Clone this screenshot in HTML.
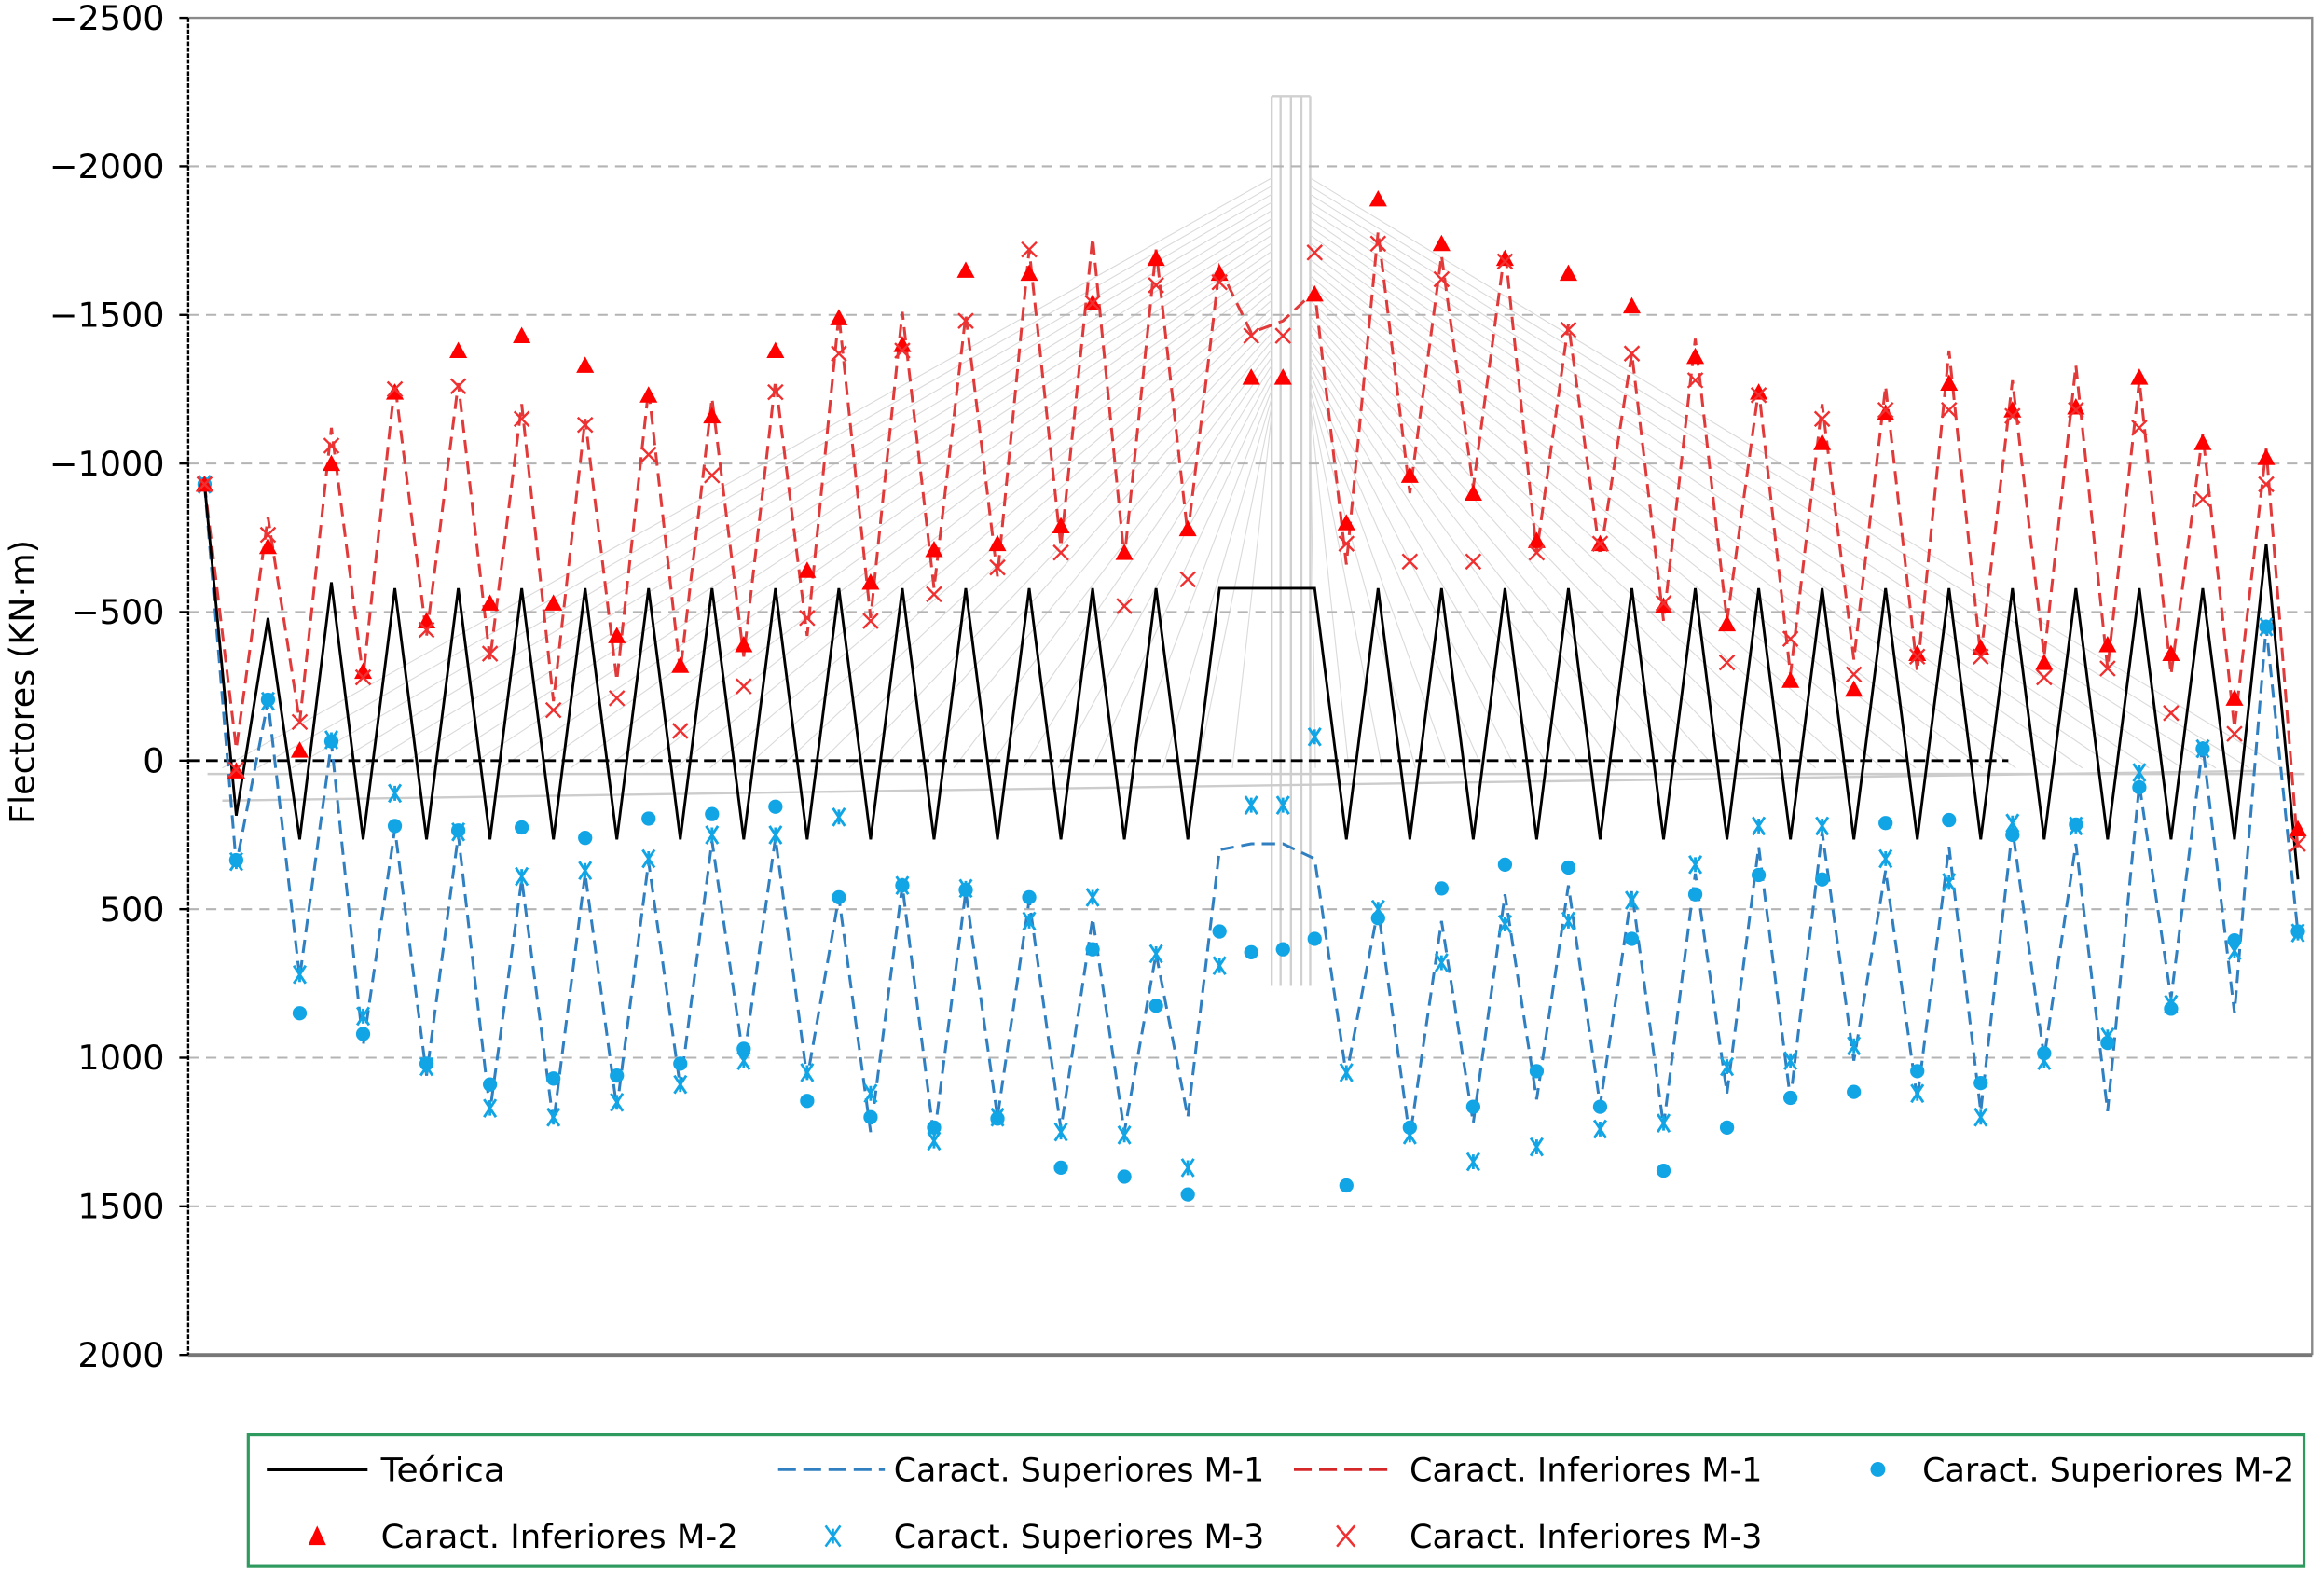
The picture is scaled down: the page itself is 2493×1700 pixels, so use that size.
<!DOCTYPE html>
<html><head><meta charset="utf-8"><style>
html,body{margin:0;padding:0;background:#fff}
svg{display:block}
text{font-family:"DejaVu Sans","Liberation Sans",sans-serif;fill:#000}
</style></head><body>
<svg id="chart" xmlns="http://www.w3.org/2000/svg" width="2493" height="1700" viewBox="0 0 1568 1069" preserveAspectRatio="none">
<g id="bg"></g>
<g id="grid"></g>
<g id="series"></g>
<g id="axes"></g>
<text transform="translate(23,460) rotate(-90)" text-anchor="middle" font-size="23">Flectores (KN·m)</text>
<g>
<rect x="167.5" y="967.5" width="1387" height="89" fill="#fff" stroke="#2e9a5e" stroke-width="2"/>
<g><line x1="180" y1="991" x2="248" y2="991" stroke="#000" stroke-width="2.5"/><text x="257" y="999" font-size="22" textLength="84" lengthAdjust="spacingAndGlyphs">Teórica</text></g>
<g><line x1="525" y1="991" x2="597" y2="991" stroke="#2f7fc1" stroke-width="2.2" stroke-dasharray="12,5"/><text x="603" y="999" font-size="22" textLength="250" lengthAdjust="spacingAndGlyphs">Caract. Superiores M-1</text></g>
<g><line x1="873" y1="991" x2="937" y2="991" stroke="#d62728" stroke-width="2.2" stroke-dasharray="12,5"/><text x="951" y="999" font-size="22" textLength="238" lengthAdjust="spacingAndGlyphs">Caract. Inferiores M-1</text></g>
<g><circle cx="1267" cy="991" r="5" fill="#12a5e6"/><text x="1297" y="999" font-size="22" textLength="251" lengthAdjust="spacingAndGlyphs">Caract. Superiores M-2</text></g>
<g><polygon points="214,1029 220,1042 208,1042" fill="#f00"/><text x="257" y="1044" font-size="22" textLength="241" lengthAdjust="spacingAndGlyphs">Caract. Inferiores M-2</text></g>
<g><path d="M557,1029 L567,1043 M567,1029 L557,1043 M562,1031 V1041" stroke="#12a5e6" stroke-width="1.6"/><text x="603" y="1044" font-size="22" textLength="250" lengthAdjust="spacingAndGlyphs">Caract. Superiores M-3</text></g>
<g><path d="M902,1029 L914,1043 M914,1029 L902,1043" stroke="#f03030" stroke-width="1.6"/><text x="951" y="1044" font-size="22" textLength="238" lengthAdjust="spacingAndGlyphs">Caract. Inferiores M-3</text></g>
</g>
</svg>
<script>
const yTicks=[-2500,-2000,-1500,-1000,-500,0,500,1000,1500,2000];
const teorica=[-930,185,-480,265,-600,265,-580,265,-580,265,-580,265,-580,265,-580,265,-580,265,-580,265,-580,265,-580,265,-580,265,-580,265,-580,265,-580,265,-580,-580,-580,-580,265,-580,265,-580,265,-580,265,-580,265,-580,265,-580,265,-580,265,-580,265,-580,265,-580,265,-580,265,-580,265,-580,265,-580,265,-730,400];
const supM1=[-930,350,-200,730,-60,960,230,1060,250,1180,400,1220,380,1170,340,1100,270,1010,260,1070,460,1250,420,1270,440,1200,470,1240,530,1250,650,1200,300,280,280,330,1060,500,1270,540,1220,450,1140,420,1160,440,1230,380,1120,290,1140,240,1010,370,1140,290,1180,230,1000,280,1180,80,800,-50,850,-450,580];
const infM1=[-930,-40,-820,-130,-1120,-280,-1270,-420,-1270,-340,-1200,-200,-1150,-270,-1250,-300,-1220,-350,-1280,-420,-1500,-480,-1510,-580,-1500,-620,-1720,-720,-1760,-680,-1720,-760,-1660,-1440,-1480,-1580,-660,-1780,-900,-1700,-920,-1720,-700,-1470,-690,-1370,-470,-1420,-470,-1250,-290,-1200,-340,-1260,-300,-1380,-350,-1280,-350,-1330,-310,-1280,-290,-1100,-110,-1050,300];
const supM2=[-930,335,-205,850,-65,920,220,1020,235,1090,225,1070,260,1060,195,1020,180,970,155,1145,460,1200,420,1235,435,1205,460,1370,635,1400,825,1460,575,645,635,600,1430,530,1235,430,1165,350,1045,360,1165,600,1380,450,1235,385,1135,400,1115,210,1045,200,1085,250,985,215,950,90,835,-40,605,-450,575];
const infM2=[-930,35,-720,-35,-1000,-300,-1240,-470,-1380,-530,-1430,-530,-1330,-420,-1230,-320,-1160,-390,-1380,-640,-1490,-600,-1400,-710,-1650,-730,-1640,-790,-1540,-700,-1690,-780,-1640,-1290,-1290,-1570,-800,-1890,-960,-1740,-900,-1690,-740,-1640,-730,-1530,-520,-1360,-460,-1240,-270,-1070,-240,-1170,-360,-1270,-380,-1180,-330,-1190,-390,-1290,-360,-1070,-210,-1020,230];
const supM3=[-930,340,-200,720,-70,860,110,1030,240,1170,390,1200,370,1150,330,1090,250,1010,250,1050,190,1120,420,1280,430,1200,540,1250,460,1260,650,1370,690,150,150,-80,1050,500,1260,680,1350,550,1300,540,1240,470,1220,350,1030,220,1010,220,960,330,1120,410,1200,210,1010,220,930,40,820,-40,640,-450,580];
const infM3=[-930,30,-760,-130,-1060,-280,-1250,-440,-1260,-360,-1150,-170,-1130,-210,-1030,-100,-960,-250,-1240,-480,-1370,-470,-1380,-560,-1480,-650,-1720,-700,-1540,-520,-1600,-610,-1610,-1430,-1430,-1710,-730,-1740,-670,-1620,-670,-1680,-700,-1450,-730,-1370,-530,-1280,-330,-1230,-410,-1150,-290,-1180,-350,-1180,-350,-1160,-280,-1180,-310,-1120,-160,-880,-90,-930,280];

const NS='http://www.w3.org/2000/svg';
const X0=138,DX=21.4,Y0=513,KY=100.2/500;
function xs(i){return X0+i*DX;}
function ys(v){return Y0+v*KY;}
function mk(tag,attrs,parent){const e=document.createElementNS(NS,tag);for(const k in attrs)e.setAttribute(k,attrs[k]);parent.appendChild(e);return e;}

const bg=document.getElementById('bg');
const pylonX=[858,864,871,878,884];
pylonX.forEach(px=>{
  const l=mk('line',{x1:px,y1:65,x2:px,y2:665,stroke:'#d0d0d0','stroke-width':1.5},bg);
  
  
});
const pl=mk('line',{x1:858,y1:65,x2:884,y2:65,stroke:'#d0d0d0','stroke-width':1.5},bg);


for(let k=0;k<30;k++){
  const ax=150+k*23.5, ay=518;
  const c1=mk('line',{x1:858,y1:120+k*5.5,x2:ax,y2:ay,stroke:'#dadada','stroke-width':0.7},bg);
  
  
  const bx=1540-k*22.5;
  const c2=mk('line',{x1:884,y1:120+k*5.5,x2:bx,y2:ay,stroke:'#dadada','stroke-width':0.7},bg);
  
  
}
[[140,522,1555,522],[150,540,1520,520]].forEach(d=>{
  const dk=mk('line',{x1:d[0],y1:d[1],x2:d[2],y2:d[3],stroke:'#cccccc','stroke-width':1.5},bg);
  
  
});

const grid=document.getElementById('grid');
yTicks.forEach(t=>{
  if(t===-2500||t===2000||t===0)return;
  const g=mk('line',{x1:127,y1:ys(t),x2:1560,y2:ys(t),stroke:'#b4b4b4','stroke-width':1.3,'stroke-dasharray':'7,5'},grid);
  
  
});
const z=mk('line',{x1:127,y1:ys(0),x2:1355,y2:ys(0),stroke:'#000','stroke-width':1.8,'stroke-dasharray':'8,4'},grid);



const S=document.getElementById('series');
function poly(arr,color,w,dash,name){
  const p=mk('polyline',{points:arr.map((v,i)=>xs(i)+','+ys(v)).join(' '),fill:'none',stroke:color,'stroke-width':w},S);
  if(dash)p.setAttribute('stroke-dasharray',dash);
  
  
}
poly(supM1,'#2f7fc1',1.9,'9,5','line-superiores-m1');
poly(infM1,'#e03a3a',1.9,'9,5','line-inferiores-m1');
poly(teorica,'#000',1.8,null,'line-teorica');
supM2.forEach((v,i)=>{
  const c=mk('circle',{cx:xs(i),cy:ys(v),r:4.8,fill:'#12a5e6'},S);
  
  
});
supM3.forEach((v,i)=>{
  const x=xs(i),y=ys(v);
  const a=mk('path',{d:`M${x-4},${y-6}L${x+4},${y+6}M${x+4},${y-6}L${x-4},${y+6}M${x},${y-5}V${y+5}`,stroke:'#12a5e6','stroke-width':1.8,fill:'none'},S);
  
  
});
infM2.forEach((v,i)=>{
  const x=xs(i),y=ys(v);
  const t=mk('polygon',{points:`${x},${y-6} ${x+6},${y+5} ${x-6},${y+5}`,fill:'#f00'},S);
  
  
});
infM3.forEach((v,i)=>{
  const x=xs(i),y=ys(v);
  const a=mk('path',{d:`M${x-5},${y-5}L${x+5},${y+5}M${x+5},${y-5}L${x-5},${y+5}`,stroke:'#f03030','stroke-width':1.5,fill:'none'},S);
  
  
});

const A=document.getElementById('axes');
const fr=mk('polyline',{points:`127,${ys(-2500)} 1560,${ys(-2500)} 1560,${ys(2000)}`,fill:'none',stroke:'#8a8a8a','stroke-width':1.5},A);


const bx=mk('line',{x1:127,y1:ys(2000),x2:1560,y2:ys(2000),stroke:'#777','stroke-width':2.5},A);


const yl=mk('line',{x1:127,y1:ys(-2500),x2:127,y2:ys(2000),stroke:'#000','stroke-width':1.5,'stroke-dasharray':'3,1'},A);


yTicks.forEach(t=>{
  const tk=mk('line',{x1:121,y1:ys(t),x2:127,y2:ys(t),stroke:'#000','stroke-width':1.5},A);
  
  
  const tx=mk('text',{x:111,y:ys(t)+8,'text-anchor':'end','font-size':23},A);
  tx.textContent=t<0?'\u2212'+(-t):String(t);
  
  
});
</script>
</body></html>
